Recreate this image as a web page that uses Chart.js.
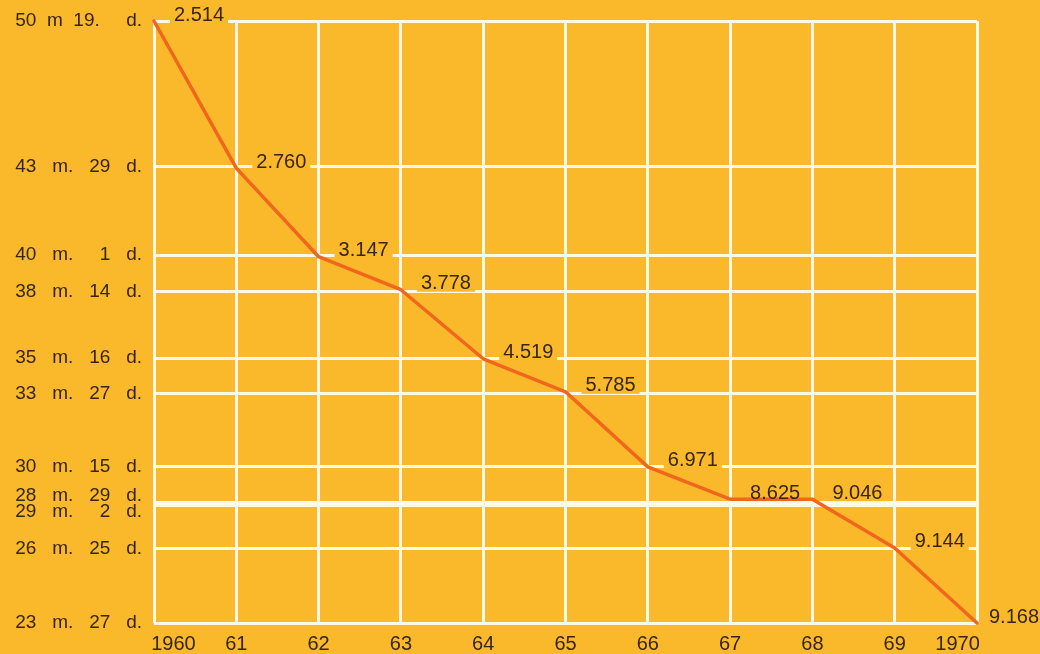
<!DOCTYPE html>
<html>
<head>
<meta charset="utf-8">
<title>Trajanje</title>
<script src="https://cdn.jsdelivr.net/npm/chart.js@4.4.1/dist/chart.umd.min.js"></script>
<style>
    html, body { margin: 0; padding: 0; background: #FAB82B; }
    #wrap { width: 1040px; height: 654px; }
</style>
</head>
<body>
<div id="wrap"><canvas id="grafico"></canvas></div>
<script>
// years on the x axis
const years = ['1960', '61', '62', '63', '64', '65', '66', '67', '68', '69', '1970'];
// duration per year, in days on the chart's (hand drawn) scale
const durationDays = [1519, 1323, 1205, 1161, 1069, 1025, 925, 882, 882, 817, 717];
// numbers written next to each point
const counts = ['2.514', '2.760', '3.147', '3.778', '4.519', '5.785', '6.971', '8.625', '9.046', '9.144', '9.168'];
// y ticks: where each duration label sits on the same day scale
const tickDays = [1519, 1325, 1207, 1158, 1070, 1023, 925, 878, 874, 816, 717];
const tickLabels = [
    '50  m  19.     d.',
    '43   m.   29   d.',
    '40   m.     1   d.',
    '38   m.   14   d.',
    '35   m.   16   d.',
    '33   m.   27   d.',
    '30   m.   15   d.',
    '28   m.   29   d.',
    '29   m.     2   d.',
    '26   m.   25   d.',
    '23   m.   27   d.'
];

const BG = '#FAB82B';
const GRID = '#FFF9E6';
const INK = '#36250F';
const LINE = '#F0661C';
const LABEL_FONT = '20px "Liberation Sans", Arial, sans-serif';

// where a count label goes: right of its point, kept inside the canvas
function labelX(chart, ctx, pt, text) {
    const w = ctx.measureText(text).width;
    return Math.min(pt.x + 20, chart.width - w - 1);
}

const countLabels = {
    id: 'countLabels',
    beforeDatasetsDraw(chart) {
        const ctx = chart.ctx;
        const meta = chart.getDatasetMeta(0);
        ctx.save();
        ctx.font = LABEL_FONT;
        ctx.fillStyle = BG;
        meta.data.forEach((pt, i) => {
            const w = ctx.measureText(counts[i]).width;
            const x = labelX(chart, ctx, pt, counts[i]);
            ctx.fillRect(x - 4, pt.y - 14, w + 8, 16);
        });
        ctx.restore();
    },
    afterDatasetsDraw(chart) {
        const ctx = chart.ctx;
        const meta = chart.getDatasetMeta(0);
        ctx.save();
        ctx.font = LABEL_FONT;
        ctx.fillStyle = INK;
        ctx.textAlign = 'left';
        ctx.textBaseline = 'middle';
        meta.data.forEach((pt, i) => {
            ctx.fillText(counts[i], labelX(chart, ctx, pt, counts[i]), pt.y - 6);
        });
        ctx.restore();
    }
};

const ctx = document.getElementById('grafico').getContext('2d');
new Chart(ctx, {
    type: 'line',
    data: {
        labels: years,
        datasets: [{
            data: durationDays,
            borderColor: LINE,
            borderWidth: 3.5,
            borderJoinStyle: 'round',
            borderCapStyle: 'round',
            pointRadius: 0,
            tension: 0,
            clip: false
        }]
    },
    options: {
        responsive: true,
        maintainAspectRatio: false,
        animation: false,
        layout: {
            padding: { top: 21, right: 63, left: 0, bottom: 0 }
        },
        plugins: {
            legend: { display: false },
            tooltip: { enabled: false }
        },
        scales: {
            x: {
                offset: false,
                grid: { color: GRID, lineWidth: 3, drawTicks: false },
                border: { display: false },
                afterFit: function(scale) { scale.height = 31; },
                ticks: {
                    color: INK,
                    padding: 9,
                    maxRotation: 0,
                    autoSkip: false,
                    font: { family: '"Liberation Sans", Arial, sans-serif', size: 20 },
                    callback: function(value, index) {
                        const label = years[index];
                        if (index === 0) return '       ' + label;
                        if (index === years.length - 1) return label + '       ';
                        return label;
                    }
                }
            },
            y: {
                min: 717,
                max: 1519,
                grid: { color: GRID, lineWidth: 3, drawTicks: false },
                border: { display: false },
                afterFit: function(scale) { scale.width = 154; },
                afterBuildTicks: function(scale) {
                    scale.ticks = tickDays.map(v => ({ value: v }));
                },
                ticks: {
                    color: INK,
                    padding: 12,
                    autoSkip: false,
                    font: { family: '"Liberation Sans", Arial, sans-serif', size: 19, lineHeight: 0.7 },
                    callback: function(value) {
                        const i = tickDays.indexOf(value);
                        const label = tickLabels[i];
                        // the two nearly equal ticks: push one label up, the other down
                        if (i === 7) return [label, ''];
                        if (i === 8) return ['', label];
                        return label;
                    }
                }
            }
        }
    },
    plugins: [countLabels]
});
</script>
</body>
</html>
